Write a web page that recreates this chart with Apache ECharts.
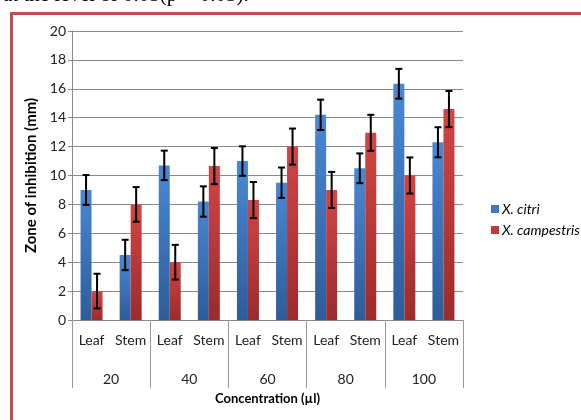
<!DOCTYPE html>
<html>
<head>
<meta charset="utf-8">
<script src="https://cdn.jsdelivr.net/npm/echarts@6/dist/echarts.min.js"></script>
<style>html,body{margin:0;padding:0;background:#fff;}#c{width:581px;height:420px;}</style>
</head>
<body>
<div id="c"></div>
<script>
var parts = ['Leaf','Stem','Leaf','Stem','Leaf','Stem','Leaf','Stem','Leaf','Stem'];
var concentrations = ['20','40','60','80','100'];
var citri = [9.0, 4.5, 10.7, 8.2, 11.0, 9.5, 14.2, 10.5, 16.35, 12.3];
var citriErr = [1.03, 1.05, 1.02, 1.05, 1.02, 1.05, 1.05, 1.03, 1.03, 1.04];
var campestris = [2.0, 8.0, 4.0, 10.65, 8.3, 12.0, 9.0, 12.95, 10.0, 14.6];
var campestrisErr = [1.2, 1.2, 1.2, 1.25, 1.25, 1.25, 1.25, 1.25, 1.25, 1.25];
var yTicks = {min: 0, max: 20, interval: 2};

var FONT = 'Lato';
var BW = 11;
var blueGrad = new echarts.graphic.LinearGradient(0,0,0,1,[{offset:0,color:'#4A88D4'},{offset:1,color:'#2D5C9A'}]);
var redGrad = new echarts.graphic.LinearGradient(0,0,0,1,[{offset:0,color:'#D24545'},{offset:1,color:'#9B2B2B'}]);

function errData(vals, errs){
  return vals.map(function(v,i){ return [i, v - errs[i], v + errs[i]]; });
}
function errRender(offset){
  return function(params, api){
    var i = api.value(0);
    var lo = api.coord([i, api.value(1)]);
    var hi = api.coord([i, api.value(2)]);
    var x = lo[0] + offset;
    var cap = 3.5;
    var st = {stroke:'#000', lineWidth:2};
    return {type:'group', children:[
      {type:'line', shape:{x1:x,y1:hi[1],x2:x,y2:lo[1]}, style:st},
      {type:'line', shape:{x1:x-cap,y1:hi[1],x2:x+cap,y2:hi[1]}, style:st},
      {type:'line', shape:{x1:x-cap,y1:lo[1],x2:x+cap,y2:lo[1]}, style:st}
    ]};
  };
}

var chart = echarts.init(document.getElementById('c'), null, {renderer:'canvas'});
chart.setOption({
  animation: false,
  backgroundColor: '#fff',
  textStyle: {fontFamily: FONT},
  graphic: [
    {type:'rect', shape:{x:11.5, y:13.5, width:600, height:450}, style:{fill:'none', stroke:'#C0504D', lineWidth:3}, silent:true},
    {type:'text', x:3, y:6, style:{text:'at the level of 0.05(p < 0.05).', font:'21px "Liberation Serif"', fill:'#000', verticalAlign:'bottom'}, silent:true}
  ],
  grid: {left:72, right:118, top:31, bottom:100, containLabel:false},
  legend: {
    orient:'vertical', left:486, top:197, itemWidth:8, itemHeight:8, itemGap:7, icon:'rect',
    textStyle:{fontFamily:FONT, fontStyle:'italic', fontSize:14, color:'#000', padding:[0,0,0,-2]},
    data:[{name:'X. citri', itemStyle:{color:'#3F78C2'}}, {name:'X. campestris', itemStyle:{color:'#C03A3A'}}]
  },
  xAxis: [
    {type:'category', data:parts, position:'bottom',
     axisLine:{show:true, lineStyle:{color:'#888', width:1}},
     axisTick:{show:false},
     axisLabel:{margin:13, fontSize:14, color:'#222', fontFamily:FONT, interval:0},
     name:'Concentration (µl)', nameLocation:'middle', nameGap:72,
     nameTextStyle:{fontWeight:'bold', fontSize:13, color:'#000', fontFamily:FONT}},
    {type:'category', data:concentrations, position:'bottom',
     axisLine:{show:false},
     axisTick:{show:true, length:68, lineStyle:{color:'#999', width:1}, alignWithLabel:false},
     axisLabel:{margin:52, fontSize:14, color:'#222', fontFamily:FONT, interval:0}}
  ],
  yAxis: {
    type:'value', min:yTicks.min, max:yTicks.max, interval:yTicks.interval,
    axisLine:{show:true, lineStyle:{color:'#888'}},
    axisTick:{show:true, length:4, lineStyle:{color:'#888'}},
    axisLabel:{margin:6, fontSize:14, color:'#222', fontFamily:FONT},
    splitLine:{show:true, lineStyle:{color:'#8a8a8a', width:1}},
    name:'Zone of inhibition (mm)', nameLocation:'middle', nameGap:26,
    nameTextStyle:{fontWeight:'bold', fontSize:15, color:'#000', fontFamily:FONT}
  },
  series: [
    {name:'X. citri', type:'bar', data:citri, barWidth:BW, barGap:'0%', itemStyle:{color:blueGrad}},
    {name:'X. campestris', type:'bar', data:campestris, barWidth:BW, barGap:'0%', itemStyle:{color:redGrad}},
    {name:'errCitri', type:'custom', data:errData(citri, citriErr), renderItem:errRender(-BW/2), z:10, encode:{x:0, y:[1,2]}},
    {name:'errCamp', type:'custom', data:errData(campestris, campestrisErr), renderItem:errRender(BW/2), z:10, encode:{x:0, y:[1,2]}}
  ]
});
</script>
</body>
</html>
